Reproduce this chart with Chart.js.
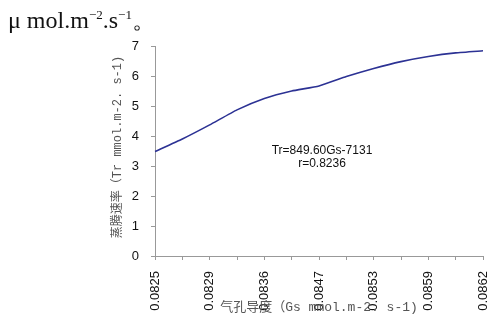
<!DOCTYPE html>
<html lang="zh">
<head>
  <meta charset="UTF-8">
  <title>Tr vs Gs</title>
  <script src="https://cdn.jsdelivr.net/npm/chart.js@4.4.0/dist/chart.umd.min.js"></script>
  <style>
    body { margin: 0; background: #fff; }
    .wrap { position: relative; width: 490px; height: 321px; }
    .unit {
      position: absolute; left: 8px; top: 4px;
      font-family: "Liberation Serif", "DejaVu Serif", serif;
      font-size: 24px; color: #111; white-space: nowrap;
    }
    .unit sup { font-size: 13px; }
  </style>
</head>
<body>
<div class="wrap">
  <div class="unit">μ mol.m<sup>−2</sup>.s<sup>−1</sup>。</div>
  <canvas id="myChart" width="490" height="321"></canvas>
</div>

<script>
  // stomatal conductance categories (only every other one is labelled in the source)
  const gsLabels = ['0.0825', '', '0.0829', '', '0.0836', '', '0.0847', '', '0.0853', '', '0.0859', '', '0.0862'];
  // transpiration rate
  const trValues = [3.48, 3.9, 4.37, 4.87, 5.25, 5.5, 5.67, 5.98, 6.25, 6.48, 6.65, 6.77, 6.84];
  const yTicks = [0, 1, 2, 3, 4, 5, 6, 7];

  const xTitle = '气孔导度（Gs mmol.m-2. s-1)';
  const yTitle = '蒸腾速率（Tr mmol.m-2. s-1)';
  const fitLines = ['Tr=849.60Gs-7131', 'r=0.8236'];

  /* titles and regression text */
  const textPlugin = {
    id: 'texts',
    afterDraw(chart) {
      const ctx = chart.ctx;
      const area = chart.chartArea;
      ctx.save();
      ctx.fillStyle = '#555';
      ctx.textAlign = 'center';
      ctx.textBaseline = 'middle';
      ctx.font = '13px "Liberation Mono", "Noto Sans CJK SC", monospace';
      ctx.fillText(xTitle, (area.left + area.right) / 2, 308);

      ctx.translate(118, 147);
      ctx.rotate(-Math.PI / 2);
      ctx.font = '12px "Liberation Mono", "Noto Sans CJK SC", monospace';
      ctx.fillText(yTitle, 0, 0);
      ctx.restore();

      ctx.save();
      ctx.fillStyle = '#111';
      ctx.textAlign = 'center';
      ctx.textBaseline = 'middle';
      ctx.font = '12px "Liberation Sans", Arial, sans-serif';
      ctx.fillText(fitLines[0], 322, 151);
      ctx.fillText(fitLines[1], 322, 164);
      ctx.restore();
    }
  };

  const config = {
    type: 'line',
    data: {
      labels: gsLabels,
      datasets: [{
        data: trValues,
        borderColor: 'rgb(44, 50, 148)',
        borderWidth: 1.6,
        pointRadius: 0,
        tension: 0.15,
        fill: false
      }]
    },
    options: {
      responsive: false,
      animation: false,
      layout: { padding: { top: 46, right: 7, left: 0, bottom: 0 } },
      plugins: { legend: { display: false }, tooltip: { enabled: false } },
      scales: {
        x: {
          offset: false,
          border: { color: '#999', width: 1 },
          grid: { drawOnChartArea: false, drawTicks: true, tickLength: 4, color: '#999' },
          ticks: {
            autoSkip: false,
            minRotation: 90,
            maxRotation: 90,
            padding: 11,
            color: '#111',
            font: { family: '"Liberation Sans", Arial, sans-serif', size: 13 }
          },
          afterFit(scale) {
            scale.height = 65;
            scale.paddingLeft = 0;
            scale.paddingRight = 0;
          }
        },
        y: {
          min: 0,
          max: 7,
          afterBuildTicks(scale) { scale.ticks = yTicks.map(v => ({ value: v })); },
          border: { color: '#999', width: 1 },
          grid: { drawOnChartArea: false, drawTicks: true, tickLength: 4, color: '#999' },
          ticks: {
            padding: 12,
            color: '#111',
            font: { family: '"Liberation Sans", Arial, sans-serif', size: 13 }
          },
          afterFit(scale) { scale.width = 155; }
        }
      }
    },
    plugins: [textPlugin]
  };

  new Chart(document.getElementById('myChart'), config);
</script>
</body>
</html>
